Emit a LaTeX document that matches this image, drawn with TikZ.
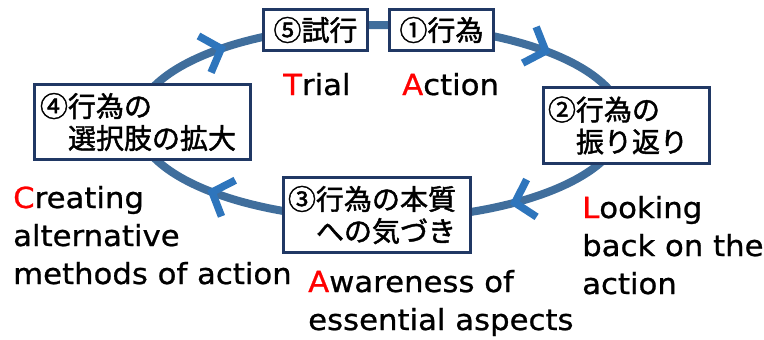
\documentclass[tikz,border=0pt]{standalone}
\usepackage{fontspec}
\newfontfamily\jpfont{Noto Sans CJK JP}[FakeBold=1.6]
\newfontfamily\enfont{DejaVu Sans}[FakeStretch=1.06,FakeBold=0.8]
\definecolor{ringblue}{RGB}{64,110,156}
\definecolor{tipblue}{RGB}{46,117,188}
\definecolor{boxnavy}{RGB}{32,56,100}
\definecolor{keyred}{RGB}{255,0,0}
\begin{document}
\begin{tikzpicture}[x=1pt,y=-1pt,
  ring/.style={draw=ringblue, line width=8pt},
  tipmark/.style={draw=tipblue, line width=7.5pt, line cap=butt, line join=miter},
  box/.style={draw=boxnavy, line width=3pt, fill=white, inner sep=0pt,
    font=\jpfont\fontsize{28}{32}\selectfont},
  lab/.style={anchor=base west, inner sep=0pt, font=\enfont\fontsize{29}{38}\selectfont}]
\useasboundingbox (0,0) rectangle (764,340);
% cycle ring
\draw[ring] plot[domain=0:360, samples=120, smooth cycle] ({380+243*cos(\x)},{122+97*sin(\x)});
% arrowheads (clockwise)
\foreach \t in {229.2,313,56.3,133.7}{
  \pgfmathsetmacro\px{380+243*cos(\t)}
  \pgfmathsetmacro\py{122+97*sin(\t)}
  \pgfmathsetmacro\ph{atan2(97*cos(\t),-243*sin(\t))}
  \draw[tipmark] ({\px-26*cos(\ph+48)},{\py-26*sin(\ph+48)}) -- (\px,\py)
    -- ({\px-26*cos(\ph-48)},{\py-26*sin(\ph-48)});
}
% boxes
\node[box, minimum width=104pt, minimum height=41pt] (b5) at (315.5,30) {⑤試行};
\node[box, minimum width=104pt, minimum height=41pt] (b1) at (441.5,30) {①行為};
\node[box, minimum width=166pt, minimum height=76pt, text width=157pt, align=left] (b2) at (626.5,125.5) {②行為の\\　振り返り};
\node[box, minimum width=187pt, minimum height=75pt, text width=178pt, align=left] (b3) at (377,215) {③行為の本質\\　への気づき};
\node[box, minimum width=216pt, minimum height=75pt, text width=205pt, align=left] (b4) at (142.5,122) {④行為の\\　選択肢の拡大};
% English labels
\node[lab] (t1) at (283,95) {\textcolor{keyred}{T}rial};
\node[lab] (a1) at (402,95) {\textcolor{keyred}{A}ction};
\node[lab] (l1) at (582,218) {\textcolor{keyred}{L}ooking};
\node[lab] (l2) at (582,256) {back on the};
\node[lab] (l3) at (582,294) {action};
\node[lab] (w1) at (308,292) {\textcolor{keyred}{A}wareness of};
\node[lab] (w2) at (308,330) {essential aspects};
\node[lab] (c1) at (13,208) {\textcolor{keyred}{C}reating};
\node[lab] (c2) at (13,246) {alternative};
\node[lab] (c3) at (13,284) {methods of action};
\end{tikzpicture}
\end{document}
